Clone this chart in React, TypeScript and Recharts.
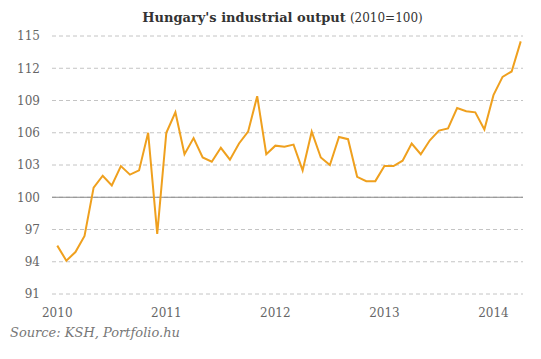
import { CartesianGrid, Line, LineChart, ReferenceLine, XAxis, YAxis } from "recharts";

// monthly index, Jan 2010 = 0 ... Apr 2014 = 51
const output = [
  95.5, 94.1, 94.9, 96.4, 100.9, 102.0, 101.1, 102.9, 102.1, 102.5, 106.0, 96.6,
  106.0, 107.9, 104.0, 105.5, 103.7, 103.3, 104.6, 103.5, 105.0, 106.1, 109.4, 104.0,
  104.8, 104.7, 104.9, 102.5, 106.1, 103.7, 103.0, 105.6, 105.4, 101.9, 101.5, 101.5,
  102.9, 102.9, 103.4, 105.0, 104.0, 105.3, 106.2, 106.4, 108.3, 108.0, 107.9, 106.3,
  109.5, 111.2, 111.7, 114.5,
];
const years = ["2010", "2011", "2012", "2013", "2014"];
const yTicks = [91, 94, 97, 100, 103, 106, 109, 112, 115];

const data = output.map((v, i) => ({ m: i, v }));
const xTicks = years.map((_, i) => i * 12);

const serif = "'DejaVu Serif', 'Liberation Serif', serif";

export default function App() {
  return (
    <div style={{ position: "absolute", left: 0, top: 0, width: 541, height: 359, background: "#fff", fontFamily: serif }}>
      <div style={{ position: "absolute", left: 12, top: 10, width: 541, textAlign: "center", fontSize: 13, color: "#333" }}>
        <b>Hungary's industrial output</b> <span style={{ fontSize: 12 }}>(2010=100)</span>
      </div>
      <LineChart width={541} height={359} data={data} margin={{ top: 36, right: 18, bottom: 35, left: 0 }}>
        <CartesianGrid vertical={false} stroke="#c4c4c4" strokeDasharray="4 3" />
        <XAxis
          dataKey="m"
          type="number"
          domain={[-0.58, 51.25]}
          ticks={xTicks}
          tickFormatter={(v: number) => years[v / 12]}
          axisLine={false}
          tickLine={false}
          tickMargin={8}
          height={30}
          tick={{ fill: "#666", fontSize: 12, fontFamily: serif }}
        />
        <YAxis
          domain={[91, 115]}
          ticks={yTicks}
          axisLine={false}
          tickLine={false}
          tickMargin={6}
          width={52}
          tick={{ fill: "#666", fontSize: 12, fontFamily: serif }}
        />
        <ReferenceLine y={100} stroke="#888" strokeWidth={1} />
        <Line dataKey="v" stroke="#EFA01E" strokeWidth={2} dot={false} isAnimationActive={false} />
      </LineChart>
      <div style={{ position: "absolute", left: 10, top: 325, fontSize: 13, fontStyle: "italic", color: "#777" }}>
        Source: KSH, Portfolio.hu
      </div>
    </div>
  );
}
